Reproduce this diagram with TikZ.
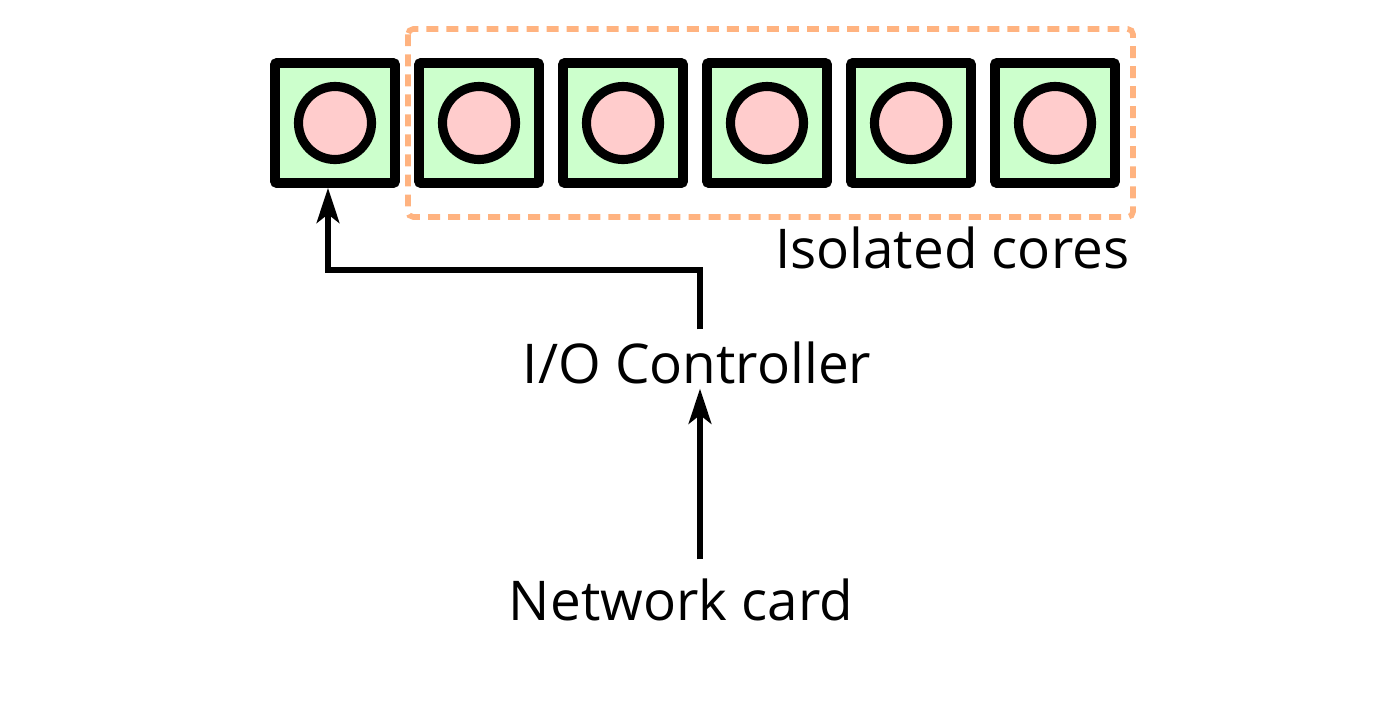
\documentclass[tikz,border=0pt]{standalone}
\usepackage{fontspec}
\setmainfont{Open Sans}
\usetikzlibrary{arrows.meta}
\definecolor{boxgreen}{HTML}{CCFFCC}
\definecolor{dotpink}{HTML}{FFCCCC}
\definecolor{dashorange}{HTML}{FFB380}
\begin{document}
\begin{tikzpicture}[
  corebox/.style={draw=black, fill=boxgreen, line width=2.8pt, minimum size=1.2cm, inner sep=0pt, rounded corners=0.6pt},
  coredot/.style={draw=black, fill=dotpink, circle, line width=2.6pt, minimum size=0.73cm, inner sep=0pt},
  lbl/.style={font=\fontsize{15.6}{18}\selectfont, inner sep=0pt},
  arr/.style={line width=1.45pt, -{Stealth[length=10pt, width=6.5pt, inset=2.5pt]}}
]
\useasboundingbox (0,0) rectangle (14,-7.24);
% dashed group
\draw[dashorange, line width=1.6pt, dash pattern=on 3.4pt off 2.3pt, rounded corners=1.5pt] (4.08,-0.29) rectangle (11.33,-2.17);
% cores
\foreach \i in {0,...,5} {
  \node[corebox] (c\i) at ({3.35+1.44*\i},-1.23) {};
  \node[coredot] (d\i) at (c\i.center) {};
}
\node[lbl, anchor=base east] (iso) at (11.30,-2.68) {Isolated cores};
\node[lbl, anchor=base, text height=0.53cm, text depth=0.05cm] (io) at (6.97,-3.83) {I/O Controller};
\node[lbl, anchor=base, text height=0.60cm, text depth=0.1cm] (nic) at (6.81,-6.20) {Network card};
\coordinate (up) at (7.00,-2.70);
\draw[arr] (io.north -| up) -- (up) -| ([xshift=-0.07cm]c0.south);
\draw[arr] (nic.north -| up) -- (io.south -| up);
\end{tikzpicture}
\end{document}
